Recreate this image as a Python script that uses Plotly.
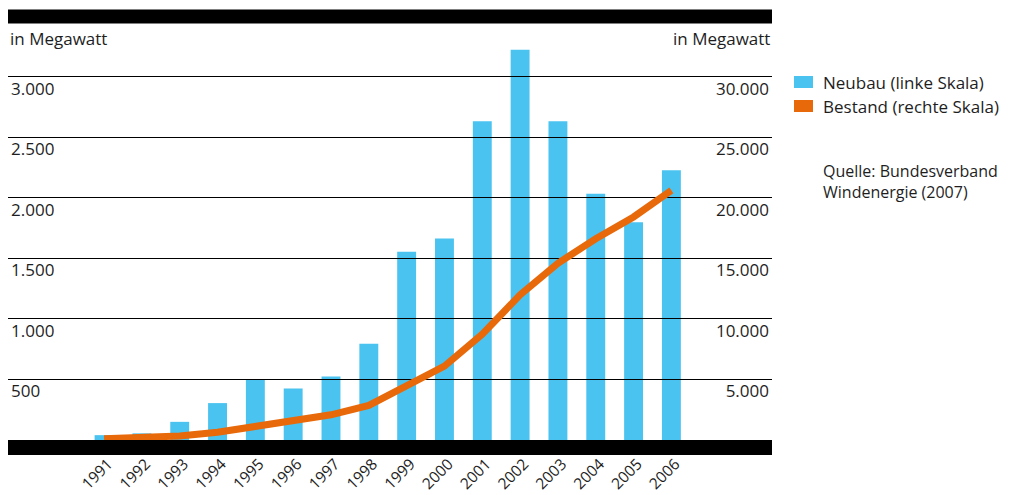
import plotly.graph_objects as go

# Windenergie in Deutschland, 1991-2006
years = ["1991", "1992", "1993", "1994", "1995", "1996", "1997", "1998",
         "1999", "2000", "2001", "2002", "2003", "2004", "2005", "2006"]
neubau = [40, 55, 150, 305, 505, 425, 525, 795,
          1555, 1665, 2635, 3225, 2635, 2035, 1800, 2230]
bestand = [110, 180, 330, 640, 1130, 1550, 2080, 2860,
           4440, 6100, 8750, 11990, 14610, 16630, 18430, 20620]

left_ticks = [500, 1000, 1500, 2000, 2500, 3000]
left_labels = ["500", "1.000", "1.500", "2.000", "2.500", "3.000"]
right_ticks = [5000, 10000, 15000, 20000, 25000, 30000]
right_labels = ["5.000", "10.000", "15.000", "20.000", "25.000", "30.000"]

BLUE = "#4bc3f0"
ORANGE = "#e8690a"
TEXT = "#1e1e1e"
FONT = "Open Sans"

# the page puts the figure 8px in from the top-left corner
OFF = 8
W, H = 1011 - OFF, 495 - OFF
L, R, T, B = 0, 239, 15, 55
PW, PH = W - L - R, H - T - B


def px(x):
    # page pixel x -> paper x
    return (x - OFF - L) / PW


def py(y):
    # page pixel y -> paper y
    return (H - B - (y - OFF)) / PH


xrange_ = [-2.54, 17.66]

fig = go.Figure()

fig.add_trace(go.Bar(
    x=years, y=neubau, marker_color=BLUE, marker_line_width=0,
    name="Neubau (linke Skala)", xaxis="x", yaxis="y", showlegend=False,
))

fig.add_trace(go.Scatter(
    x=years, y=bestand, mode="lines",
    line=dict(color=ORANGE, width=7),
    name="Bestand (rechte Skala)", xaxis="x2", yaxis="y2", showlegend=False,
))

tickfont = dict(family=FONT, size=17, color=TEXT)

fig.update_layout(
    width=W, height=H,
    margin=dict(l=L, r=R, t=T, b=B, autoexpand=False),
    paper_bgcolor="white",
    plot_bgcolor="rgba(0,0,0,0)",
    bargap=0.5,
    font=dict(family=FONT, size=17, color=TEXT),
    xaxis=dict(
        type="category", categoryarray=years, range=xrange_,
        showgrid=False, zeroline=False, showline=False, ticks="",
        tickangle=-45, tickfont=dict(family=FONT, size=15.5, color=TEXT),
        ticklabelstandoff=11, ticklabelshift=4, automargin=False,
    ),
    yaxis=dict(
        range=[0, 3446], tickvals=left_ticks, ticktext=left_labels,
        ticklabelposition="inside bottom", showgrid=False, zeroline=False,
        showline=False, ticks="", tickfont=tickfont, automargin=False,
    ),
    xaxis2=dict(
        type="category", categoryarray=years, range=xrange_,
        anchor="y2", visible=False,
    ),
    yaxis2=dict(
        range=[0, 34460], tickvals=right_ticks, ticktext=right_labels,
        anchor="x2", side="right", ticklabelposition="inside bottom",
        showgrid=True, gridcolor="black", gridwidth=1.3, zeroline=False,
        showline=False, ticks="", tickfont=tickfont, automargin=False,
    ),
)

# black bands top and bottom
fig.add_shape(type="rect", xref="paper", yref="paper",
              x0=0, x1=1, y0=py(23.5), y1=py(9.5),
              fillcolor="black", line_width=0, layer="below")
fig.add_shape(type="rect", xref="paper", yref="paper",
              x0=0, x1=1, y0=py(455), y1=py(440),
              fillcolor="black", line_width=0, layer="below")

# axis unit labels
fig.add_annotation(text="in Megawatt", xref="paper", yref="paper",
                   x=0, y=py(38), xanchor="left", yanchor="middle",
                   showarrow=False, font=tickfont)
fig.add_annotation(text="in Megawatt", xref="paper", yref="paper",
                   x=1, y=py(38), xanchor="right", yanchor="middle",
                   showarrow=False, font=tickfont)

# legend (drawn by hand to get rectangular swatches)
legend_items = [("Neubau (linke Skala)", BLUE, 82),
                ("Bestand (rechte Skala)", ORANGE, 106)]
for label, color, yc in legend_items:
    fig.add_shape(type="rect", xref="paper", yref="paper",
                  x0=px(794), x1=px(813), y0=py(yc + 6), y1=py(yc - 6),
                  fillcolor=color, line_width=0)
    fig.add_annotation(text=label, xref="paper", yref="paper",
                       x=px(821), y=py(yc), xanchor="left", yanchor="middle",
                       showarrow=False, font=tickfont)

fig.add_annotation(text="Quelle: Bundesverband<br>Windenergie (2007)",
                   xref="paper", yref="paper", x=px(821), y=py(181),
                   xanchor="left", yanchor="middle", align="left",
                   showarrow=False, font=dict(family=FONT, size=16, color=TEXT))

fig.write_html("out.html")
